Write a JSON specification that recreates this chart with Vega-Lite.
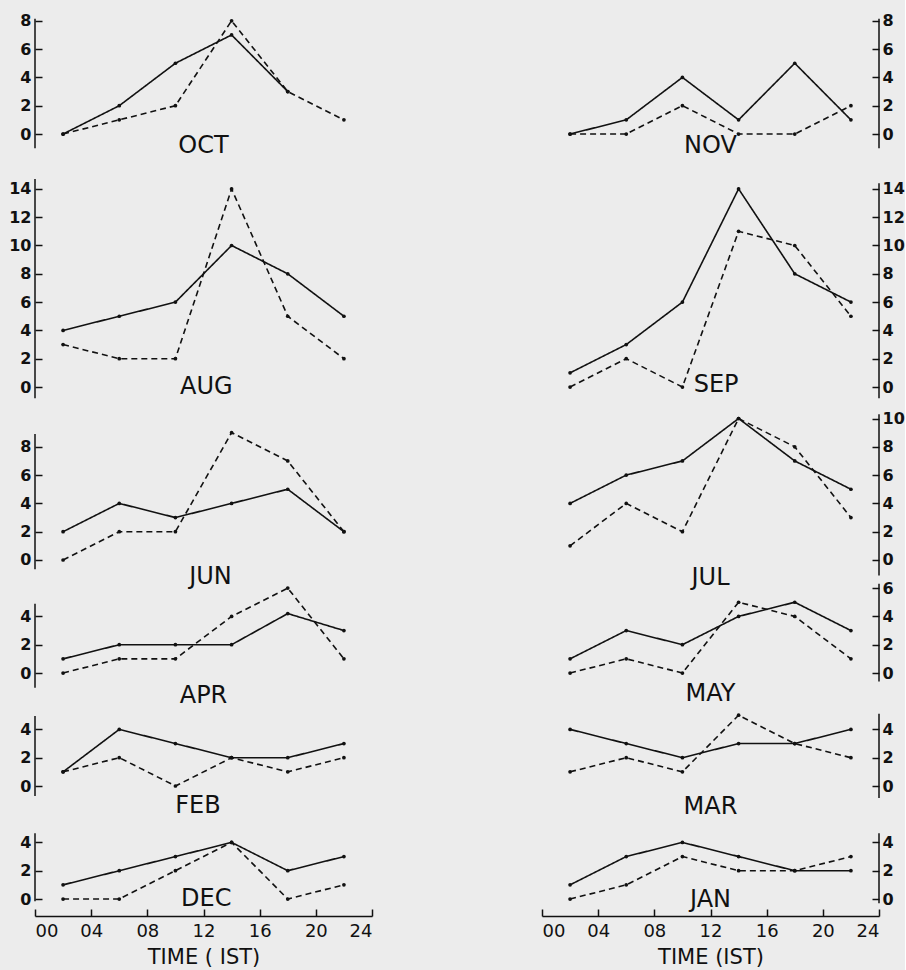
{
  "$schema": "https://vega.github.io/schema/vega-lite/v6.json",
  "background": "#ececec",
  "padding": {"left": 8, "top": 12, "right": 0, "bottom": 5},
  "columns": 2,
  "bounds": "flush",
  "spacing": {"row": 0, "column": 170},
  "data": {"values": [
    {"month":"OCT","time":2,"series":"A","value":0},{"month":"OCT","time":6,"series":"A","value":2},{"month":"OCT","time":10,"series":"A","value":5},{"month":"OCT","time":14,"series":"A","value":7},{"month":"OCT","time":18,"series":"A","value":3},
    {"month":"OCT","time":2,"series":"B","value":0},{"month":"OCT","time":6,"series":"B","value":1},{"month":"OCT","time":10,"series":"B","value":2},{"month":"OCT","time":14,"series":"B","value":8},{"month":"OCT","time":18,"series":"B","value":3},{"month":"OCT","time":22,"series":"B","value":1},
    {"month":"NOV","time":2,"series":"A","value":0},{"month":"NOV","time":6,"series":"A","value":1},{"month":"NOV","time":10,"series":"A","value":4},{"month":"NOV","time":14,"series":"A","value":1},{"month":"NOV","time":18,"series":"A","value":5},{"month":"NOV","time":22,"series":"A","value":1},
    {"month":"NOV","time":2,"series":"B","value":0},{"month":"NOV","time":6,"series":"B","value":0},{"month":"NOV","time":10,"series":"B","value":2},{"month":"NOV","time":14,"series":"B","value":0},{"month":"NOV","time":18,"series":"B","value":0},{"month":"NOV","time":22,"series":"B","value":2},
    {"month":"AUG","time":2,"series":"A","value":4},{"month":"AUG","time":6,"series":"A","value":5},{"month":"AUG","time":10,"series":"A","value":6},{"month":"AUG","time":14,"series":"A","value":10},{"month":"AUG","time":18,"series":"A","value":8},{"month":"AUG","time":22,"series":"A","value":5},
    {"month":"AUG","time":2,"series":"B","value":3},{"month":"AUG","time":6,"series":"B","value":2},{"month":"AUG","time":10,"series":"B","value":2},{"month":"AUG","time":14,"series":"B","value":14},{"month":"AUG","time":18,"series":"B","value":5},{"month":"AUG","time":22,"series":"B","value":2},
    {"month":"SEP","time":2,"series":"A","value":1},{"month":"SEP","time":6,"series":"A","value":3},{"month":"SEP","time":10,"series":"A","value":6},{"month":"SEP","time":14,"series":"A","value":14},{"month":"SEP","time":18,"series":"A","value":8},{"month":"SEP","time":22,"series":"A","value":6},
    {"month":"SEP","time":2,"series":"B","value":0},{"month":"SEP","time":6,"series":"B","value":2},{"month":"SEP","time":10,"series":"B","value":0},{"month":"SEP","time":14,"series":"B","value":11},{"month":"SEP","time":18,"series":"B","value":10},{"month":"SEP","time":22,"series":"B","value":5},
    {"month":"JUN","time":2,"series":"A","value":2},{"month":"JUN","time":6,"series":"A","value":4},{"month":"JUN","time":10,"series":"A","value":3},{"month":"JUN","time":14,"series":"A","value":4},{"month":"JUN","time":18,"series":"A","value":5},{"month":"JUN","time":22,"series":"A","value":2},
    {"month":"JUN","time":2,"series":"B","value":0},{"month":"JUN","time":6,"series":"B","value":2},{"month":"JUN","time":10,"series":"B","value":2},{"month":"JUN","time":14,"series":"B","value":9},{"month":"JUN","time":18,"series":"B","value":7},{"month":"JUN","time":22,"series":"B","value":2},
    {"month":"JUL","time":2,"series":"A","value":4},{"month":"JUL","time":6,"series":"A","value":6},{"month":"JUL","time":10,"series":"A","value":7},{"month":"JUL","time":14,"series":"A","value":10},{"month":"JUL","time":18,"series":"A","value":7},{"month":"JUL","time":22,"series":"A","value":5},
    {"month":"JUL","time":2,"series":"B","value":1},{"month":"JUL","time":6,"series":"B","value":4},{"month":"JUL","time":10,"series":"B","value":2},{"month":"JUL","time":14,"series":"B","value":10},{"month":"JUL","time":18,"series":"B","value":8},{"month":"JUL","time":22,"series":"B","value":3},
    {"month":"APR","time":2,"series":"A","value":1},{"month":"APR","time":6,"series":"A","value":2},{"month":"APR","time":10,"series":"A","value":2},{"month":"APR","time":14,"series":"A","value":2},{"month":"APR","time":18,"series":"A","value":4.2},{"month":"APR","time":22,"series":"A","value":3},
    {"month":"APR","time":2,"series":"B","value":0},{"month":"APR","time":6,"series":"B","value":1},{"month":"APR","time":10,"series":"B","value":1},{"month":"APR","time":14,"series":"B","value":4},{"month":"APR","time":18,"series":"B","value":6},{"month":"APR","time":22,"series":"B","value":1},
    {"month":"MAY","time":2,"series":"A","value":1},{"month":"MAY","time":6,"series":"A","value":3},{"month":"MAY","time":10,"series":"A","value":2},{"month":"MAY","time":14,"series":"A","value":4},{"month":"MAY","time":18,"series":"A","value":5},{"month":"MAY","time":22,"series":"A","value":3},
    {"month":"MAY","time":2,"series":"B","value":0},{"month":"MAY","time":6,"series":"B","value":1},{"month":"MAY","time":10,"series":"B","value":0},{"month":"MAY","time":14,"series":"B","value":5},{"month":"MAY","time":18,"series":"B","value":4},{"month":"MAY","time":22,"series":"B","value":1},
    {"month":"FEB","time":2,"series":"A","value":1},{"month":"FEB","time":6,"series":"A","value":4},{"month":"FEB","time":10,"series":"A","value":3},{"month":"FEB","time":14,"series":"A","value":2},{"month":"FEB","time":18,"series":"A","value":2},{"month":"FEB","time":22,"series":"A","value":3},
    {"month":"FEB","time":2,"series":"B","value":1},{"month":"FEB","time":6,"series":"B","value":2},{"month":"FEB","time":10,"series":"B","value":0},{"month":"FEB","time":14,"series":"B","value":2},{"month":"FEB","time":18,"series":"B","value":1},{"month":"FEB","time":22,"series":"B","value":2},
    {"month":"MAR","time":2,"series":"A","value":4},{"month":"MAR","time":6,"series":"A","value":3},{"month":"MAR","time":10,"series":"A","value":2},{"month":"MAR","time":14,"series":"A","value":3},{"month":"MAR","time":18,"series":"A","value":3},{"month":"MAR","time":22,"series":"A","value":4},
    {"month":"MAR","time":2,"series":"B","value":1},{"month":"MAR","time":6,"series":"B","value":2},{"month":"MAR","time":10,"series":"B","value":1},{"month":"MAR","time":14,"series":"B","value":5},{"month":"MAR","time":18,"series":"B","value":3},{"month":"MAR","time":22,"series":"B","value":2},
    {"month":"DEC","time":2,"series":"A","value":1},{"month":"DEC","time":6,"series":"A","value":2},{"month":"DEC","time":10,"series":"A","value":3},{"month":"DEC","time":14,"series":"A","value":4},{"month":"DEC","time":18,"series":"A","value":2},{"month":"DEC","time":22,"series":"A","value":3},
    {"month":"DEC","time":2,"series":"B","value":0},{"month":"DEC","time":6,"series":"B","value":0},{"month":"DEC","time":10,"series":"B","value":2},{"month":"DEC","time":14,"series":"B","value":4},{"month":"DEC","time":18,"series":"B","value":0},{"month":"DEC","time":22,"series":"B","value":1},
    {"month":"JAN","time":2,"series":"A","value":1},{"month":"JAN","time":6,"series":"A","value":3},{"month":"JAN","time":10,"series":"A","value":4},{"month":"JAN","time":14,"series":"A","value":3},{"month":"JAN","time":18,"series":"A","value":2},{"month":"JAN","time":22,"series":"A","value":2},
    {"month":"JAN","time":2,"series":"B","value":0},{"month":"JAN","time":6,"series":"B","value":1},{"month":"JAN","time":10,"series":"B","value":3},{"month":"JAN","time":14,"series":"B","value":2},{"month":"JAN","time":18,"series":"B","value":2},{"month":"JAN","time":22,"series":"B","value":3}
  ]},
  "concat": [
    {"width": 337, "height": 151, "transform": [{"filter": "datum.month === 'OCT'"}],
     "layer": [
      {"mark": {"type": "line", "color": "#111", "strokeWidth": 1.6},
       "encoding": {"x": {"field": "time", "type": "quantitative", "scale": {"domain": [0, 24], "nice": false}, "axis": null},
        "y": {"field": "value", "type": "quantitative", "scale": {"domain": [-2.261, 8.41], "nice": false, "zero": false}, "axis": {"orient": "left", "values": [0, 2, 4, 6, 8], "tickCount": 30, "format": "d", "labelOverlap": false, "title": null}},
        "strokeDash": {"field": "series", "type": "nominal", "scale": {"domain": ["A", "B"], "range": [[1, 0], [6, 4]]}, "legend": null}}},
      {"mark": {"type": "point", "filled": true, "color": "#111", "size": 14, "opacity": 1}, "encoding": {"x": {"field": "time", "type": "quantitative"}, "y": {"field": "value", "type": "quantitative"}}},
      {"data": {"values": [{"label": "OCT"}]}, "mark": {"type": "text", "fontSize": 24, "color": "#111"}, "encoding": {"x": {"datum": 12}, "y": {"datum": -0.85}, "text": {"field": "label"}}},
      {"data": {"values": [{"label": "OCT"}]}, "mark": {"type": "rule", "color": "#111", "strokeWidth": 1.5}, "encoding": {"x": {"datum": 0}, "y": {"datum": -1.0}, "y2": {"datum": 8.15}}}
     ]},
    {"width": 337, "height": 151, "transform": [{"filter": "datum.month === 'NOV'"}],
     "layer": [
      {"mark": {"type": "line", "color": "#111", "strokeWidth": 1.6},
       "encoding": {"x": {"field": "time", "type": "quantitative", "scale": {"domain": [0, 24], "nice": false}, "axis": null},
        "y": {"field": "value", "type": "quantitative", "scale": {"domain": [-2.261, 8.41], "nice": false, "zero": false}, "axis": {"orient": "right", "values": [0, 2, 4, 6, 8], "tickCount": 30, "format": "d", "labelOverlap": false, "labelPadding": 10, "title": null}},
        "strokeDash": {"field": "series", "type": "nominal", "scale": {"domain": ["A", "B"], "range": [[1, 0], [6, 4]]}, "legend": null}}},
      {"mark": {"type": "point", "filled": true, "color": "#111", "size": 14, "opacity": 1}, "encoding": {"x": {"field": "time", "type": "quantitative"}, "y": {"field": "value", "type": "quantitative"}}},
      {"data": {"values": [{"label": "NOV"}]}, "mark": {"type": "text", "fontSize": 24, "color": "#111"}, "encoding": {"x": {"datum": 12}, "y": {"datum": -0.85}, "text": {"field": "label"}}},
      {"data": {"values": [{"label": "NOV"}]}, "mark": {"type": "rule", "color": "#111", "strokeWidth": 1.5}, "encoding": {"x": {"datum": 24}, "y": {"datum": -1.0}, "y2": {"datum": 8.15}}}
     ]},
    {"width": 337, "height": 235, "transform": [{"filter": "datum.month === 'AUG'"}],
     "layer": [
      {"mark": {"type": "line", "color": "#111", "strokeWidth": 1.6},
       "encoding": {"x": {"field": "time", "type": "quantitative", "scale": {"domain": [0, 24], "nice": false}, "axis": null},
        "y": {"field": "value", "type": "quantitative", "scale": {"domain": [-0.989, 15.618], "nice": false, "zero": false}, "axis": {"orient": "left", "values": [0, 2, 4, 6, 8, 10, 12, 14], "tickCount": 30, "format": "d", "labelOverlap": false, "title": null}},
        "strokeDash": {"field": "series", "type": "nominal", "scale": {"domain": ["A", "B"], "range": [[1, 0], [6, 4]]}, "legend": null}}},
      {"mark": {"type": "point", "filled": true, "color": "#111", "size": 14, "opacity": 1}, "encoding": {"x": {"field": "time", "type": "quantitative"}, "y": {"field": "value", "type": "quantitative"}}},
      {"data": {"values": [{"label": "AUG"}]}, "mark": {"type": "text", "fontSize": 24, "color": "#111"}, "encoding": {"x": {"datum": 12.2}, "y": {"datum": 0}, "text": {"field": "label"}}},
      {"data": {"values": [{"label": "AUG"}]}, "mark": {"type": "rule", "color": "#111", "strokeWidth": 1.5}, "encoding": {"x": {"datum": 0}, "y": {"datum": -0.8}, "y2": {"datum": 14.7}}}
     ]},
    {"width": 337, "height": 235, "transform": [{"filter": "datum.month === 'SEP'"}],
     "layer": [
      {"mark": {"type": "line", "color": "#111", "strokeWidth": 1.6},
       "encoding": {"x": {"field": "time", "type": "quantitative", "scale": {"domain": [0, 24], "nice": false}, "axis": null},
        "y": {"field": "value", "type": "quantitative", "scale": {"domain": [-0.989, 15.618], "nice": false, "zero": false}, "axis": {"orient": "right", "values": [0, 2, 4, 6, 8, 10, 12, 14], "tickCount": 30, "format": "d", "labelOverlap": false, "labelPadding": 10, "title": null}},
        "strokeDash": {"field": "series", "type": "nominal", "scale": {"domain": ["A", "B"], "range": [[1, 0], [6, 4]]}, "legend": null}}},
      {"mark": {"type": "point", "filled": true, "color": "#111", "size": 14, "opacity": 1}, "encoding": {"x": {"field": "time", "type": "quantitative"}, "y": {"field": "value", "type": "quantitative"}}},
      {"data": {"values": [{"label": "SEP"}]}, "mark": {"type": "text", "fontSize": 24, "color": "#111"}, "encoding": {"x": {"datum": 12.4}, "y": {"datum": 0.15}, "text": {"field": "label"}}},
      {"data": {"values": [{"label": "SEP"}]}, "mark": {"type": "rule", "color": "#111", "strokeWidth": 1.5}, "encoding": {"x": {"datum": 24}, "y": {"datum": -0.8}, "y2": {"datum": 14.4}}}
     ]},
    {"width": 337, "height": 181, "transform": [{"filter": "datum.month === 'JUN'"}],
     "layer": [
      {"mark": {"type": "line", "color": "#111", "strokeWidth": 1.6},
       "encoding": {"x": {"field": "time", "type": "quantitative", "scale": {"domain": [0, 24], "nice": false}, "axis": null},
        "y": {"field": "value", "type": "quantitative", "scale": {"domain": [-1.555, 11.237], "nice": false, "zero": false}, "axis": {"orient": "left", "values": [0, 2, 4, 6, 8], "tickCount": 30, "format": "d", "labelOverlap": false, "title": null}},
        "strokeDash": {"field": "series", "type": "nominal", "scale": {"domain": ["A", "B"], "range": [[1, 0], [6, 4]]}, "legend": null}}},
      {"mark": {"type": "point", "filled": true, "color": "#111", "size": 14, "opacity": 1}, "encoding": {"x": {"field": "time", "type": "quantitative"}, "y": {"field": "value", "type": "quantitative"}}},
      {"data": {"values": [{"label": "JUN"}]}, "mark": {"type": "text", "fontSize": 24, "color": "#111"}, "encoding": {"x": {"datum": 12.5}, "y": {"datum": -1.2}, "text": {"field": "label"}}},
      {"data": {"values": [{"label": "JUN"}]}, "mark": {"type": "rule", "color": "#111", "strokeWidth": 1.5}, "encoding": {"x": {"datum": 0}, "y": {"datum": -0.65}, "y2": {"datum": 8.9}}}
     ]},
    {"width": 337, "height": 181, "transform": [{"filter": "datum.month === 'JUL'"}],
     "layer": [
      {"mark": {"type": "line", "color": "#111", "strokeWidth": 1.6},
       "encoding": {"x": {"field": "time", "type": "quantitative", "scale": {"domain": [0, 24], "nice": false}, "axis": null},
        "y": {"field": "value", "type": "quantitative", "scale": {"domain": [-1.555, 11.237], "nice": false, "zero": false}, "axis": {"orient": "right", "values": [0, 2, 4, 6, 8, 10], "tickCount": 30, "format": "d", "labelOverlap": false, "labelPadding": 10, "title": null}},
        "strokeDash": {"field": "series", "type": "nominal", "scale": {"domain": ["A", "B"], "range": [[1, 0], [6, 4]]}, "legend": null}}},
      {"mark": {"type": "point", "filled": true, "color": "#111", "size": 14, "opacity": 1}, "encoding": {"x": {"field": "time", "type": "quantitative"}, "y": {"field": "value", "type": "quantitative"}}},
      {"data": {"values": [{"label": "JUL"}]}, "mark": {"type": "text", "fontSize": 24, "color": "#111"}, "encoding": {"x": {"datum": 12}, "y": {"datum": -1.27}, "text": {"field": "label"}}},
      {"data": {"values": [{"label": "JUL"}]}, "mark": {"type": "rule", "color": "#111", "strokeWidth": 1.5}, "encoding": {"x": {"datum": 24}, "y": {"datum": -1.1}, "y2": {"datum": 10.3}}}
     ]},
    {"width": 337, "height": 117, "transform": [{"filter": "datum.month === 'APR'"}],
     "layer": [
      {"mark": {"type": "line", "color": "#111", "strokeWidth": 1.6},
       "encoding": {"x": {"field": "time", "type": "quantitative", "scale": {"domain": [0, 24], "nice": false}, "axis": null},
        "y": {"field": "value", "type": "quantitative", "scale": {"domain": [-1.837, 6.431], "nice": false, "zero": false}, "axis": {"orient": "left", "values": [0, 2, 4], "tickCount": 30, "format": "d", "labelOverlap": false, "title": null}},
        "strokeDash": {"field": "series", "type": "nominal", "scale": {"domain": ["A", "B"], "range": [[1, 0], [6, 4]]}, "legend": null}}},
      {"mark": {"type": "point", "filled": true, "color": "#111", "size": 14, "opacity": 1}, "encoding": {"x": {"field": "time", "type": "quantitative"}, "y": {"field": "value", "type": "quantitative"}}},
      {"data": {"values": [{"label": "APR"}]}, "mark": {"type": "text", "fontSize": 24, "color": "#111"}, "encoding": {"x": {"datum": 12}, "y": {"datum": -1.63}, "text": {"field": "label"}}},
      {"data": {"values": [{"label": "APR"}]}, "mark": {"type": "rule", "color": "#111", "strokeWidth": 1.5}, "encoding": {"x": {"datum": 0}, "y": {"datum": -1.05}, "y2": {"datum": 4.9}}}
     ]},
    {"width": 337, "height": 117, "transform": [{"filter": "datum.month === 'MAY'"}],
     "layer": [
      {"mark": {"type": "line", "color": "#111", "strokeWidth": 1.6},
       "encoding": {"x": {"field": "time", "type": "quantitative", "scale": {"domain": [0, 24], "nice": false}, "axis": null},
        "y": {"field": "value", "type": "quantitative", "scale": {"domain": [-1.837, 6.431], "nice": false, "zero": false}, "axis": {"orient": "right", "values": [0, 2, 4, 6], "tickCount": 30, "format": "d", "labelOverlap": false, "labelPadding": 10, "title": null}},
        "strokeDash": {"field": "series", "type": "nominal", "scale": {"domain": ["A", "B"], "range": [[1, 0], [6, 4]]}, "legend": null}}},
      {"mark": {"type": "point", "filled": true, "color": "#111", "size": 14, "opacity": 1}, "encoding": {"x": {"field": "time", "type": "quantitative"}, "y": {"field": "value", "type": "quantitative"}}},
      {"data": {"values": [{"label": "MAY"}]}, "mark": {"type": "text", "fontSize": 24, "color": "#111"}, "encoding": {"x": {"datum": 12}, "y": {"datum": -1.5}, "text": {"field": "label"}}},
      {"data": {"values": [{"label": "MAY"}]}, "mark": {"type": "rule", "color": "#111", "strokeWidth": 1.5}, "encoding": {"x": {"datum": 24}, "y": {"datum": -0.6}, "y2": {"datum": 6.3}}}
     ]},
    {"width": 337, "height": 120, "transform": [{"filter": "datum.month === 'FEB'"}],
     "layer": [
      {"mark": {"type": "line", "color": "#111", "strokeWidth": 1.6},
       "encoding": {"x": {"field": "time", "type": "quantitative", "scale": {"domain": [0, 24], "nice": false}, "axis": null},
        "y": {"field": "value", "type": "quantitative", "scale": {"domain": [-2.332, 6.148], "nice": false, "zero": false}, "axis": {"orient": "left", "values": [0, 2, 4], "tickCount": 30, "format": "d", "labelOverlap": false, "title": null}},
        "strokeDash": {"field": "series", "type": "nominal", "scale": {"domain": ["A", "B"], "range": [[1, 0], [6, 4]]}, "legend": null}}},
      {"mark": {"type": "point", "filled": true, "color": "#111", "size": 14, "opacity": 1}, "encoding": {"x": {"field": "time", "type": "quantitative"}, "y": {"field": "value", "type": "quantitative"}}},
      {"data": {"values": [{"label": "FEB"}]}, "mark": {"type": "text", "fontSize": 24, "color": "#111"}, "encoding": {"x": {"datum": 11.6}, "y": {"datum": -1.41}, "text": {"field": "label"}}},
      {"data": {"values": [{"label": "FEB"}]}, "mark": {"type": "rule", "color": "#111", "strokeWidth": 1.5}, "encoding": {"x": {"datum": 0}, "y": {"datum": -0.7}, "y2": {"datum": 4.95}}}
     ]},
    {"width": 337, "height": 120, "transform": [{"filter": "datum.month === 'MAR'"}],
     "layer": [
      {"mark": {"type": "line", "color": "#111", "strokeWidth": 1.6},
       "encoding": {"x": {"field": "time", "type": "quantitative", "scale": {"domain": [0, 24], "nice": false}, "axis": null},
        "y": {"field": "value", "type": "quantitative", "scale": {"domain": [-2.332, 6.148], "nice": false, "zero": false}, "axis": {"orient": "right", "values": [0, 2, 4], "tickCount": 30, "format": "d", "labelOverlap": false, "labelPadding": 10, "title": null}},
        "strokeDash": {"field": "series", "type": "nominal", "scale": {"domain": ["A", "B"], "range": [[1, 0], [6, 4]]}, "legend": null}}},
      {"mark": {"type": "point", "filled": true, "color": "#111", "size": 14, "opacity": 1}, "encoding": {"x": {"field": "time", "type": "quantitative"}, "y": {"field": "value", "type": "quantitative"}}},
      {"data": {"values": [{"label": "MAR"}]}, "mark": {"type": "text", "fontSize": 24, "color": "#111"}, "encoding": {"x": {"datum": 12}, "y": {"datum": -1.48}, "text": {"field": "label"}}},
      {"data": {"values": [{"label": "MAR"}]}, "mark": {"type": "rule", "color": "#111", "strokeWidth": 1.5}, "encoding": {"x": {"datum": 24}, "y": {"datum": -0.85}, "y2": {"datum": 5.1}}}
     ]},
    {"width": 337, "height": 97, "transform": [{"filter": "datum.month === 'DEC'"}],
     "layer": [
      {"mark": {"type": "line", "color": "#111", "strokeWidth": 1.6},
       "encoding": {"x": {"field": "time", "type": "quantitative", "scale": {"domain": [0, 24], "nice": false}, "axis": {"values": [0, 4, 8, 12, 16, 20, 24], "tickCount": 30, "labelExpr": "datum.value < 10 ? '0' + datum.value : '' + datum.value", "labelOverlap": false, "domain": true, "domainColor": "#111", "domainWidth": 1.5, "labelFontWeight": "normal", "labelFontSize": 18, "labelPadding": 13, "title": "TIME ( IST)", "titlePadding": 6}},
        "y": {"field": "value", "type": "quantitative", "scale": {"domain": [-1.201, 5.654], "nice": false, "zero": false}, "axis": {"orient": "left", "values": [0, 2, 4], "tickCount": 30, "format": "d", "labelOverlap": false, "title": null}},
        "strokeDash": {"field": "series", "type": "nominal", "scale": {"domain": ["A", "B"], "range": [[1, 0], [6, 4]]}, "legend": null}}},
      {"mark": {"type": "point", "filled": true, "color": "#111", "size": 14, "opacity": 1}, "encoding": {"x": {"field": "time", "type": "quantitative"}, "y": {"field": "value", "type": "quantitative"}}},
      {"data": {"values": [{"label": "DEC"}]}, "mark": {"type": "text", "fontSize": 24, "color": "#111"}, "encoding": {"x": {"datum": 12.2}, "y": {"datum": 0}, "text": {"field": "label"}}},
      {"data": {"values": [{"label": "DEC"}]}, "mark": {"type": "rule", "color": "#111", "strokeWidth": 1.5}, "encoding": {"x": {"datum": 0}, "y": {"datum": -0.15}, "y2": {"datum": 4.65}}}
     ]},
    {"width": 337, "height": 97, "transform": [{"filter": "datum.month === 'JAN'"}],
     "layer": [
      {"mark": {"type": "line", "color": "#111", "strokeWidth": 1.6},
       "encoding": {"x": {"field": "time", "type": "quantitative", "scale": {"domain": [0, 24], "nice": false}, "axis": {"values": [0, 4, 8, 12, 16, 20, 24], "tickCount": 30, "labelExpr": "datum.value < 10 ? '0' + datum.value : '' + datum.value", "labelOverlap": false, "domain": true, "domainColor": "#111", "domainWidth": 1.5, "labelFontWeight": "normal", "labelFontSize": 18, "labelPadding": 13, "title": "TIME (IST)", "titlePadding": 6}},
        "y": {"field": "value", "type": "quantitative", "scale": {"domain": [-1.201, 5.654], "nice": false, "zero": false}, "axis": {"orient": "right", "values": [0, 2, 4], "tickCount": 30, "format": "d", "labelOverlap": false, "labelPadding": 10, "title": null}},
        "strokeDash": {"field": "series", "type": "nominal", "scale": {"domain": ["A", "B"], "range": [[1, 0], [6, 4]]}, "legend": null}}},
      {"mark": {"type": "point", "filled": true, "color": "#111", "size": 14, "opacity": 1}, "encoding": {"x": {"field": "time", "type": "quantitative"}, "y": {"field": "value", "type": "quantitative"}}},
      {"data": {"values": [{"label": "JAN"}]}, "mark": {"type": "text", "fontSize": 24, "color": "#111"}, "encoding": {"x": {"datum": 12}, "y": {"datum": -0.1}, "text": {"field": "label"}}},
      {"data": {"values": [{"label": "JAN"}]}, "mark": {"type": "rule", "color": "#111", "strokeWidth": 1.5}, "encoding": {"x": {"datum": 24}, "y": {"datum": -0.3}, "y2": {"datum": 4.65}}}
     ]}
  ],
  "config": {
    "view": {"stroke": null},
    "text": {"font": "DejaVu Sans"},
    "axis": {"labelFont": "DejaVu Sans", "labelFontSize": 16, "labelFontWeight": "bold", "labelColor": "#111", "labelOverlap": false, "tickColor": "#111", "tickWidth": 1.5, "tickSize": -7, "grid": false, "domain": false, "labelPadding": 11, "titleFont": "DejaVu Sans", "titleFontWeight": "normal", "titleFontSize": 21, "titleColor": "#111"}
  }
}
